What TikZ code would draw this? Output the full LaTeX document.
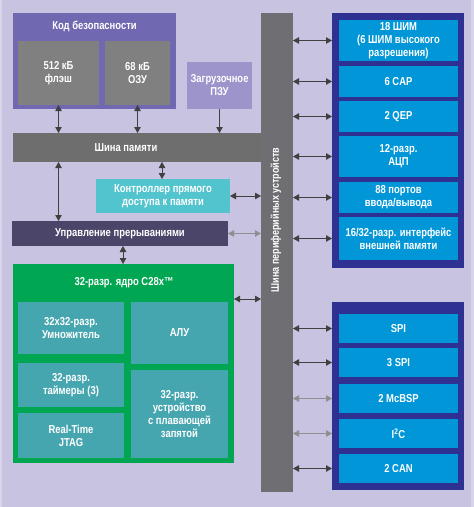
\documentclass[tikz,border=0pt]{standalone}
\usepackage{fontspec}
\setmainfont{Liberation Sans}[FakeStretch=0.82]
\usetikzlibrary{arrows.meta,calc}
\definecolor{bgc}{HTML}{C8C3E0}
\definecolor{bgedge}{HTML}{D8D4EA}
\definecolor{secp}{HTML}{7068B0}
\definecolor{memg}{HTML}{808080}
\definecolor{romc}{HTML}{9C94CA}
\definecolor{busg}{HTML}{6E6E6E}
\definecolor{dmac}{HTML}{52C4CE}
\definecolor{intc}{HTML}{4B4569}
\definecolor{pbusg}{HTML}{6F6F73}
\definecolor{dblue}{HTML}{2E3192}
\definecolor{lblue}{HTML}{0096D7}
\definecolor{coreg}{HTML}{00A651}
\definecolor{tealc}{HTML}{46A6B0}
\definecolor{arrdark}{HTML}{404040}
\definecolor{arrlight}{HTML}{8E8E8E}
\tikzset{
  box/.style={anchor=north west, inner sep=0pt, outer sep=0pt, align=center,
    text=white, font=\bfseries\fontsize{11.5}{13}\selectfont},
  lbl/.style={inner sep=0pt, align=center, text=white,
    font=\bfseries\fontsize{11.5}{13}\selectfont},
  biarrow/.style={{Triangle[length=6pt,width=6.5pt]}-{Triangle[length=6pt,width=6.5pt]},
    line width=0.9pt, draw=arrdark},
  biarrowl/.style={biarrow, draw=arrlight},
  onearrow/.style={-{Triangle[length=6pt,width=6.5pt]}, line width=0.9pt, draw=arrdark},
}
\newcommand{\bx}[7]{% name, x, y, w, h, color, text
  \node[box, fill=#6, minimum width=#4pt, minimum height=#5pt] (#1) at (#2,#3) {#7};}
\begin{document}
\begin{tikzpicture}[x=1pt,y=-1pt]
\useasboundingbox (0,0) rectangle (474,507);
\fill[bgc] (0,0) rectangle (474,507);
\fill[bgedge] (0,0) rectangle (2,507);
\fill[bgedge] (471,0) rectangle (474,507);

% security block
\bx{sec}{13}{13}{163}{96}{secp}{}
\node[lbl] (sect) at (94.5,26) {Код безопасности};
\bx{flash}{18}{41}{81}{64}{memg}{512 кБ\\флэш}
\bx{ram}{105}{41}{65}{64}{memg}{68 кБ\\ОЗУ}
\bx{rom}{187}{62}{65}{47}{romc}{Загрузочное\\ПЗУ}

% memory bus
\bx{membus}{13}{133}{249}{29}{busg}{}
\node[lbl] (membust) at (126,147.5) {Шина памяти};

% DMA
\bx{dma}{96}{179}{134}{34}{dmac}{Контроллер прямого\\доступа к памяти}

% interrupt
\bx{intr}{12}{221}{216}{25}{intc}{}
\node[lbl] (intrt) at (120,233.5) {Управление прерываниями};

% peripheral bus
\bx{pbus}{261}{13}{32}{479}{pbusg}{}
\node[lbl, rotate=90, font=\bfseries\fontsize{11}{12}\selectfont] (pbust) at (276,220) {Шина периферийных устройств};

% core
\bx{core}{13}{264}{221}{199}{coreg}{}
\node[lbl] (coret) at (124,283) {32-разр. ядро C28x™};
\bx{mul}{18}{302}{106}{52}{tealc}{32x32-разр.\\Умножитель}
\bx{alu}{131}{302}{97}{62}{tealc}{АЛУ}
\bx{tim}{18}{363}{106}{44}{tealc}{32-разр.\\таймеры (3)}
\bx{jtag}{18}{413}{106}{45}{tealc}{Real-Time\\JTAG}
\bx{fpu}{131}{370}{97}{88}{tealc}{32-разр.\\устройство\\с плавающей\\запятой}

% upper peripherals
\bx{blueA}{332}{13}{132}{255}{dblue}{}
\bx{pwm}{339}{20}{119}{41}{lblue}{18 ШИМ\\(6 ШИМ высокого\\разрешения)}
\bx{cap}{339}{66}{119}{31}{lblue}{6 CAP}
\bx{qep}{339}{101}{119}{31}{lblue}{2 QEP}
\bx{adc}{339}{136}{119}{41}{lblue}{12-разр.\\АЦП}
\bx{gpio}{339}{182}{119}{31}{lblue}{88 портов\\ввода/вывода}
\bx{xint}{339}{217}{119}{43}{lblue}{16/32-разр. интерфейс\\внешней памяти}

% lower peripherals
\bx{blueB}{332}{302}{132}{188}{dblue}{}
\bx{spi}{339}{314}{119}{29}{lblue}{SPI}
\bx{spi3}{339}{348}{119}{29}{lblue}{3 SPI}
\bx{mcbsp}{339}{384}{119}{29}{lblue}{2 McBSP}
\bx{iic}{339}{419}{119}{29}{lblue}{I\textsuperscript{2}C}
\bx{can}{339}{454}{119}{29}{lblue}{2 CAN}

% memory connections
\draw[biarrow] (flash.south) -- (flash.south |- membus.north);
\draw[biarrow] (ram.south) -- (ram.south |- membus.north);
\draw[onearrow] (rom.south) -- (rom.south |- membus.north);
\draw[biarrow] (membus.south -| flash.south) -- (intr.north -| flash.south);
\draw[biarrow] (dma.north -| 162,0) -- (membus.south -| 162,0);
\draw[biarrow] (intr.south -| 123,0) -- (core.north -| 123,0);

% to peripheral bus
\draw[biarrow] (dma.east) -- (dma.east -| pbus.west);
\draw[biarrowl] (intr.east) -- (intr.east -| pbus.west);
\coordinate (corep) at ($(core.north east)+(0,35)$);
\draw[biarrow] (corep) -- (corep -| pbus.west);

% right peripherals
\foreach \n in {pwm,cap,qep,adc,gpio,xint}{
  \draw[biarrow] (\n.west -| pbus.east) -- (\n.west -| blueA.west);
}
\foreach \n in {spi,spi3,can}{
  \draw[biarrow] (\n.west -| pbus.east) -- (\n.west -| blueB.west);
}
\foreach \n in {mcbsp,iic}{
  \draw[biarrowl] (\n.west -| pbus.east) -- (\n.west -| blueB.west);
}
\end{tikzpicture}
\end{document}
